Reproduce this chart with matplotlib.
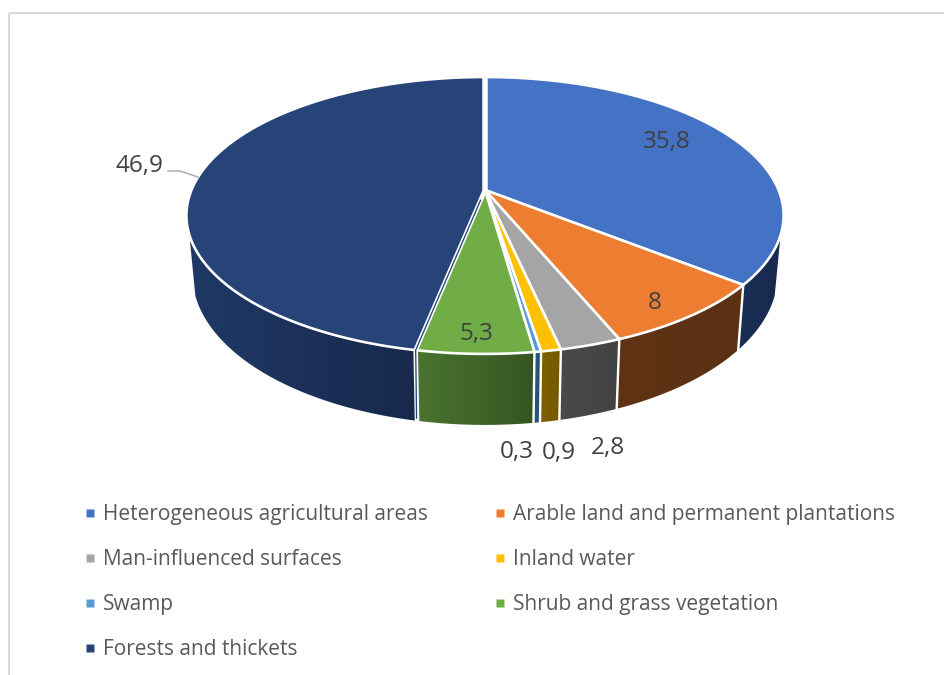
import numpy as np
import matplotlib
matplotlib.use("Agg")
import matplotlib.pyplot as plt
from matplotlib.lines import Line2D
from matplotlib.patches import Polygon, Rectangle

# Land-cover shares, clockwise from twelve o'clock
categories = ["Heterogeneous agricultural areas", "Arable land and permanent plantations",
              "Man-influenced surfaces", "Inland water", "Swamp",
              "Shrub and grass vegetation", "Forests and thickets"]
values = [35.8, 8, 2.8, 0.9, 0.3, 5.3, 46.9]
value_labels = ["35,8", "8", "2,8", "0,9", "0,3", "5,3", "46,9"]

top_colors = ["#4472C4", "#ED7D31", "#A5A5A5", "#FFC000", "#5B9BD5", "#70AD47", "#264478"]
wall_left = ["#1A2E54", "#5F3314", "#4A4A4A", "#7F6000", "#2A5A80", "#4A7430", "#1F3966"]
wall_right = ["#182A4E", "#5C3013", "#424242", "#765800", "#264F72", "#355522", "#18294C"]

label_xy = [(667, 142), (655, 303), (608, 448), (559, 453), (517, 452), (476, 334), (139, 166)]

# Projection of the pie plane on to the page, in pixels
CX, CY = 485.0, 190.0
K, D, A = 0.184, -98.8, 293.5


def project(theta_deg):
    t = np.radians(theta_deg)
    u, v = np.sin(t), np.cos(t)
    w = 1 + K * v
    return CX + A * u / w, (CY + D * v) / w


def drop(x, y):
    # Lower rim of the cylinder below a point of the upper rim
    return CX + 0.98 * (x - CX), y + 65 + 0.087 * (y - 285)


fig = plt.figure(figsize=(9.45, 6.75), dpi=100)
ax = fig.add_axes([0, 0, 1, 1])
ax.set_xlim(0, 945)
ax.set_ylim(675, 0)
ax.axis("off")
px = 72 / fig.dpi

ax.add_patch(Rectangle((9, 13), 960, 700, fc="none", ec="#D9D9D9", lw=2 * px, zorder=0))

edges = np.concatenate([[0], np.cumsum(values)]) * 360 / np.sum(values)
VISIBLE = (108.5, 251.5)

# Side walls, each with a soft left-to-right shade
for i in range(len(values)):
    a0, a1 = max(edges[i], VISIBLE[0]), min(edges[i + 1], VISIBLE[1])
    if a1 <= a0:
        continue
    th = np.linspace(a0, a1, 80)
    xt, yt = project(th)
    xb, yb = drop(xt, yt)
    pts = np.column_stack([np.r_[xt, xb[::-1]], np.r_[yt, yb[::-1]]])
    poly = Polygon(pts, closed=True, fc="none", ec="none", transform=ax.transData)
    ax.add_patch(poly)
    c0 = np.array(matplotlib.colors.to_rgb(wall_left[i]))
    c1 = np.array(matplotlib.colors.to_rgb(wall_right[i]))
    ramp = np.linspace(0, 1, 128)[None, :, None]
    img = c0[None, None, :] * (1 - ramp) + c1[None, None, :] * ramp
    im = ax.imshow(img, extent=(pts[:, 0].min(), pts[:, 0].max(), pts[:, 1].max(), pts[:, 1].min()),
                   aspect="auto", zorder=1, interpolation="bilinear")
    im.set_clip_path(poly)

# Vertical seams between neighbouring walls
for a in edges[1:-1]:
    if VISIBLE[0] <= a <= VISIBLE[1]:
        x0, y0 = project(a)
        x1, y1 = drop(x0, y0)
        ax.plot([x0, x1], [y0, y1 + 1], color="white", lw=2.4 * px, zorder=1.2, solid_capstyle="butt")

# Upper faces
for i in range(len(values)):
    th = np.linspace(edges[i], edges[i + 1], 200)
    xt, yt = project(th)
    pts = np.column_stack([np.r_[CX, xt], np.r_[CY, yt]])
    ax.add_patch(Polygon(pts, closed=True, fc=top_colors[i], ec="white",
                         lw=2.6 * px, joinstyle="round", zorder=2))

# Wider cut at the seam of the first and last slices
xs, ys = project(0)
ax.plot([CX, xs], [CY, ys - 2], color="white", lw=5.5 * px, zorder=3, solid_capstyle="butt")

# Cut face of the forest slice against the shrub slice
xf, yf = project(edges[-2])
xg, yg = drop(xf, yf)
ax.plot([CX, xf, xg], [CY, yf, yg + 1], color="white", lw=4.6 * px, zorder=3, solid_capstyle="butt")
ax.plot([CX + 0.06 * (xf - CX), xf, xg - 0.5], [CY + 0.06 * (yf - CY), yf, yg - 2],
        color=top_colors[-1], lw=1.3 * px, zorder=3.1, solid_capstyle="butt")

# Value labels
for (lx, ly), s in zip(label_xy, value_labels):
    ax.text(lx, ly, s, ha="center", va="center", family="Open Sans", fontsize=17.5,
            color="#404040", zorder=5)
ax.plot([168, 180, 198], [171, 171, 177], color="#A6A6A6", lw=1.4 * px, zorder=4)

# Legend, filled column by column
order = [0, 2, 4, 6, 1, 3, 5]
handles = [Line2D([], [], ls="none", marker="s", ms=8 * px, mfc=top_colors[i], mec="none",
                  label=categories[i]) for i in order]
ax.legend(handles=handles, ncols=2, frameon=False, loc="upper left",
          bbox_to_anchor=(84 / 945, 1 - 504 / 675), borderpad=0, borderaxespad=0,
          prop={"family": "Open Sans", "size": 15.0}, labelcolor="#595959",
          handlelength=0.6, handletextpad=0.32, labelspacing=1.15, columnspacing=3.15)

ax.set_xlim(0, 945)
ax.set_ylim(675, 0)
fig.savefig("out.png", dpi=100)
